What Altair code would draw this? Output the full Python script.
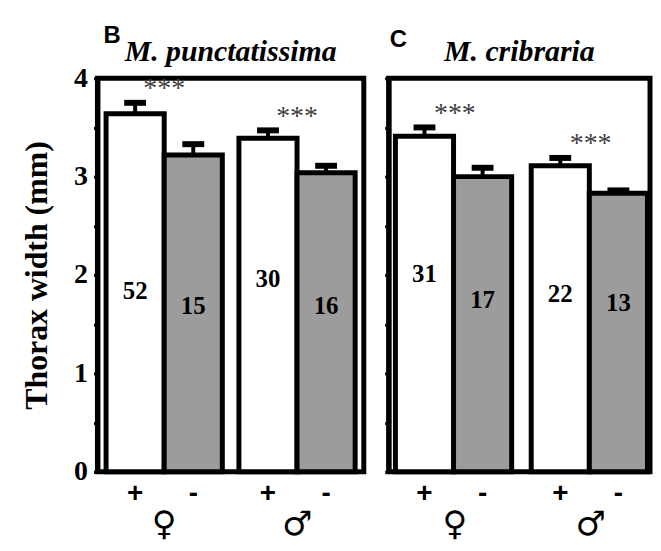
import altair as alt
import pandas as pd

# ---- data ----
panels = ["B", "B", "B", "B", "C", "C", "C", "C"]
sexes = ["♀", "♀", "♂", "♂", "♀", "♀", "♂", "♂"]
treatments = ["+", "-", "+", "-", "+", "-", "+", "-"]
means = [3.64, 3.22, 3.39, 3.04, 3.41, 3.00, 3.11, 2.83]
ses = [0.11, 0.11, 0.08, 0.07, 0.09, 0.09, 0.08, 0.03]
counts = [52, 15, 30, 16, 31, 17, 22, 13]
count_label_y = [1.84, 1.68, 1.96, 1.68, 2.01, 1.75, 1.81, 1.72]

sig_panels = ["B", "B", "C", "C"]
sig_sexes = ["♀", "♂", "♀", "♂"]
sig_text = ["***", "***", "***", "***"]

titles = {"B": "M. punctatissima", "C": "M. cribraria"}

df = pd.DataFrame({
    "panel": panels, "sex": sexes, "treatment": treatments,
    "mean": means, "se": ses, "n": counts, "ly": count_label_y,
})
df["top"] = df["mean"] + df["se"]

sig = pd.DataFrame({"panel": sig_panels, "sex": sig_sexes, "txt": sig_text})
tops = df[df.treatment == "+"].set_index(["panel", "sex"])["top"]
sig["y"] = [tops[(p, s)] + 0.14 for p, s in zip(sig_panels, sig_sexes)]

H = 396
SERIF = "Liberation Serif"
SANS = "Liberation Sans"
YT = "Thorax width (mm)"


def panel(key, show_labels, width, pad_outer, align, letter_x, letter_y):
    d = df[df.panel == key]
    s = sig[sig.panel == key]
    xs = alt.Scale(domain=["♀", "♂"], paddingInner=0.125, paddingOuter=pad_outer, align=align)
    x = alt.X("sex:N", scale=xs, title=None,
              axis=alt.Axis(labelAngle=0, domain=False, ticks=False,
                            labelFont="DejaVu Sans", labelFontSize=34,
                            labelColor="black", labelPadding=36))
    x_nox = alt.X("sex:N", scale=xs, title=None)
    xo = alt.XOffset("treatment:N", scale=alt.Scale(domain=["+", "-"], paddingInner=0, paddingOuter=0))
    ys = alt.Scale(domain=[0, 4], nice=False)
    yaxis = alt.Axis(values=[0, 0.5, 1, 1.5, 2, 2.5, 3, 3.5, 4], grid=False,
                     domain=True, domainColor="black", domainWidth=5,
                     tickColor="black", tickSize=4, tickWidth=3,
                     labels=show_labels,
                     labelExpr="datum.value % 1 == 0 ? format(datum.value, 'd') : ''",
                     labelFont=SERIF, labelFontSize=28, labelFontWeight="bold",
                     labelColor="black", labelPadding=6,
                     titleFont=SERIF, titleFontSize=32, titleFontWeight="bold",
                     titleColor="black", titlePadding=20)
    ttl = YT if show_labels else None
    base = alt.Chart(d)

    bars = base.mark_bar(stroke="black", strokeWidth=5).encode(
        x=x, xOffset=xo,
        y=alt.Y("mean:Q", scale=ys, axis=yaxis, title=ttl),
        fill=alt.Fill("treatment:N", scale=alt.Scale(domain=["+", "-"], range=["white", "#9c9c9c"]), legend=None),
    )
    err = base.mark_rule(color="black", strokeWidth=4).encode(
        x=x_nox, xOffset=xo, y=alt.Y("mean:Q", scale=ys, title=ttl), y2="top:Q")
    cap = base.mark_tick(color="black", thickness=6, size=22, opacity=1).encode(
        x=x_nox, xOffset=xo, y=alt.Y("top:Q", scale=ys, title=ttl))
    ntext = base.mark_text(font=SERIF, fontSize=25, fontWeight="bold", color="black").encode(
        x=x_nox, xOffset=xo, y=alt.Y("ly:Q", scale=ys, title=ttl), text="n:Q")
    pm = base.mark_text(font=SANS, fontSize=28, fontWeight="bold", color="black", baseline="middle").encode(
        x=x_nox, xOffset=xo, y=alt.value(H + 22), text="treatment:N")
    stars = alt.Chart(s).mark_text(font=SERIF, fontSize=28, color="#404040", baseline="middle").encode(
        x=x_nox, y=alt.Y("y:Q", scale=ys, title=ttl), text="txt:N")
    letter = alt.Chart(pd.DataFrame({"t": [key]})).mark_text(
        font=SANS, fontSize=24, fontWeight="bold", color="black", align="left", baseline="middle"
    ).encode(x=alt.value(letter_x), y=alt.value(letter_y), text="t:N")
    ttext = alt.Chart(pd.DataFrame({"t": [titles[key]]})).mark_text(
        font=SERIF, fontSize=30, fontWeight="bold", fontStyle="italic", color="black",
        align="center", baseline="alphabetic"
    ).encode(x=alt.value(width / 2), y=alt.value(-17), text="t:N")

    return alt.layer(bars, err, cap, ntext, pm, stars, letter, ttext).properties(
        width=width, height=H,
    )


chart = alt.hconcat(
    panel("B", True, 268, 0.065, 0.5, 6, -42),
    panel("C", False, 263, 0.025, 1.0, 1, -38),
    spacing=14,
).properties(
    padding={"left": 10, "top": 12, "right": 0, "bottom": 0}
).configure_view(stroke="black", strokeWidth=5)

chart.save("out.html", embed_options={"renderer": "svg", "actions": False})
